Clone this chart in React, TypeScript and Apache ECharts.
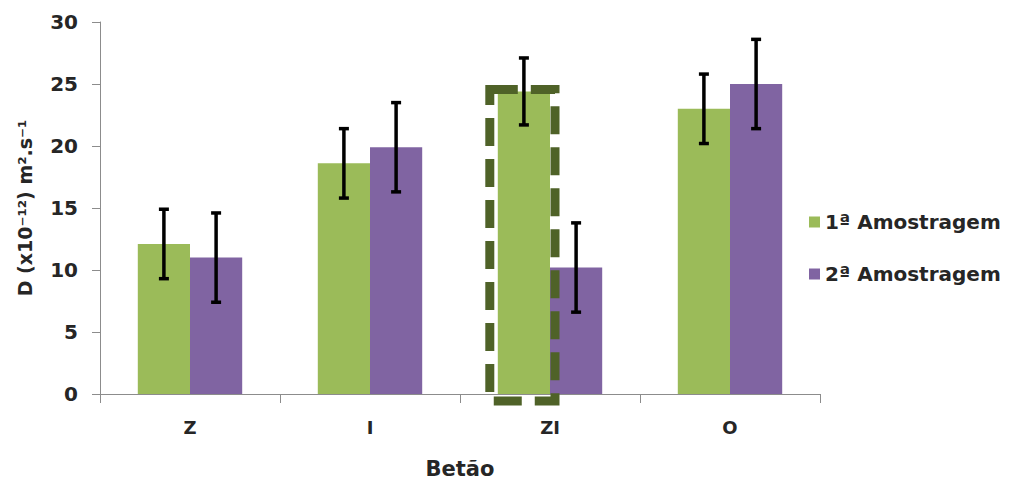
import React, { useEffect, useRef } from "react";
import * as echarts from "echarts";

const categories = ["Z", "I", "ZI", "O"];
const series1Name = "1ª Amostragem";
const series2Name = "2ª Amostragem";
const series1 = [12.1, 18.6, 24.4, 23.0];
const series2 = [11.0, 19.9, 10.2, 25.0];
const err1 = [2.8, 2.8, 2.7, 2.8];
const err2 = [3.6, 3.6, 3.6, 3.6];
const highlightIndex = 2;
const yTicks = { min: 0, max: 30, interval: 5 };

const GREEN = "#9BBB59";
const PURPLE = "#8064A2";
const TEXT = "#262626";
const AXIS = "#8C8C8C";
const CAT_GAP = 0.42;
const FONT = "'DejaVu Sans', sans-serif";

function barWidthOf(api: any) {
  const band = api.size([1, 0])[0];
  return (band * (1 - CAT_GAP)) / 2;
}

function errorRender(sign: number) {
  return (params: any, api: any) => {
    const idx = api.value(0);
    const lo = api.coord([idx, api.value(1)]);
    const hi = api.coord([idx, api.value(2)]);
    const bw = barWidthOf(api);
    const x = lo[0] + (sign * bw) / 2;
    const cap = 5;
    const style = { stroke: "#000", lineWidth: 3.5 };
    return {
      type: "group",
      children: [
        { type: "line", shape: { x1: x, y1: hi[1], x2: x, y2: lo[1] }, style },
        { type: "line", shape: { x1: x - cap, y1: hi[1], x2: x + cap, y2: hi[1] }, style },
        { type: "line", shape: { x1: x - cap, y1: lo[1], x2: x + cap, y2: lo[1] }, style },
      ],
    };
  };
}

export default function App() {
  const ref = useRef<HTMLDivElement>(null);
  useEffect(() => {
    if (!ref.current) return;
    const chart = echarts.init(ref.current, undefined, { renderer: "svg" });
    const errData1 = categories.map((_, i) => [i, series1[i] - err1[i], series1[i] + err1[i]]);
    const errData2 = categories.map((_, i) => [i, series2[i] - err2[i], series2[i] + err2[i]]);
    chart.setOption({
      animation: false,
      backgroundColor: "#fff",
      textStyle: { fontFamily: FONT },
      grid: { left: 100, right: 204, top: 22, bottom: 88, containLabel: false, outerBoundsMode: "none" },
      legend: {
        orient: "vertical",
        left: 804,
        top: 207,
        itemWidth: 11,
        itemHeight: 11,
        itemGap: 32,
        icon: "rect",
        data: [series1Name, series2Name],
        textStyle: { fontFamily: FONT, fontSize: 20, fontWeight: "bold", color: TEXT },
      },
      xAxis: {
        type: "category",
        data: categories,
        name: "Betão",
        nameLocation: "middle",
        nameGap: 64,
        nameTextStyle: { fontFamily: FONT, fontSize: 21, fontWeight: "bold", color: TEXT },
        axisLine: { lineStyle: { color: AXIS, width: 1 } },
        axisTick: { show: true, length: 9, lineStyle: { color: AXIS } },
        axisLabel: { margin: 24, fontFamily: FONT, fontSize: 18, fontWeight: "bold", color: TEXT },
      },
      yAxis: {
        type: "value",
        min: yTicks.min,
        max: yTicks.max,
        interval: yTicks.interval,
        name: "D (x10⁻¹²) m².s⁻¹",
        nameLocation: "middle",
        nameGap: 66,
        nameTextStyle: { fontFamily: FONT, fontSize: 19, fontWeight: "bold", color: TEXT },
        axisLine: { show: true, lineStyle: { color: AXIS, width: 1 } },
        axisTick: { show: true, length: 8, inside: false, lineStyle: { color: AXIS } },
        splitLine: { show: false },
        axisLabel: { margin: 22, fontFamily: FONT, fontSize: 20, fontWeight: "bold", color: TEXT },
      },
      series: [
        {
          name: series1Name,
          type: "bar",
          data: series1,
          itemStyle: { color: GREEN },
          barGap: "0%",
          barCategoryGap: `${CAT_GAP * 100}%`,
        },
        {
          name: series2Name,
          type: "bar",
          data: series2,
          itemStyle: { color: PURPLE },
          barGap: "0%",
          barCategoryGap: `${CAT_GAP * 100}%`,
        },
        {
          type: "custom",
          name: "highlight",
          data: [[highlightIndex, series1[highlightIndex]]],
          z: 5,
          silent: true,
          renderItem: (params: any, api: any) => {
            const idx = api.value(0);
            const top = api.coord([idx, api.value(1)]);
            const base = api.coord([idx, 0]);
            const bw = barWidthOf(api);
            const cx = top[0] - bw / 2;
            const left = cx - bw / 2 - 8;
            const right = cx + bw / 2 + 5;
            return {
              type: "rect",
              shape: { x: left, y: top[1] - 2, width: right - left, height: base[1] - top[1] + 9 },
              style: { fill: "none", stroke: "#4F6228", lineWidth: 9, lineDash: [28, 13] },
            };
          },
        },
        {
          type: "custom",
          name: "err1",
          data: errData1,
          z: 10,
          silent: true,
          renderItem: errorRender(-1),
        },
        {
          type: "custom",
          name: "err2",
          data: errData2,
          z: 10,
          silent: true,
          renderItem: errorRender(1),
        },
      ],
    });
    return () => chart.dispose();
  }, []);
  return (
    <div
      ref={ref}
      style={{ position: "fixed", left: 0, top: 0, width: 1024, height: 482, background: "#fff" }}
    />
  );
}
